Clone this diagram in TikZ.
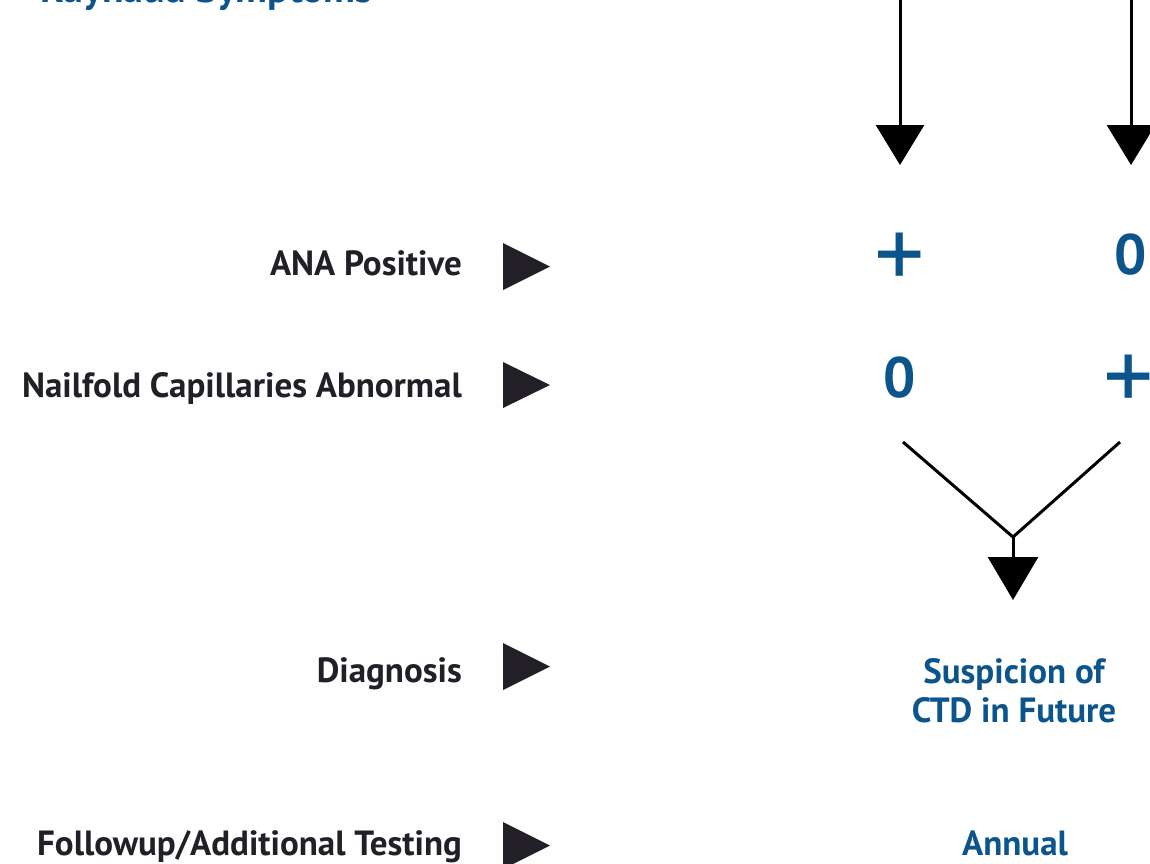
\documentclass[tikz,border=0pt]{standalone}
\usepackage{fontspec}
\setmainfont{PT Sans}
\usetikzlibrary{arrows.meta}
\definecolor{labeldark}{RGB}{35,31,38}
\definecolor{ctdblue}{RGB}{12,84,140}
\tikzset{
  rowlabel/.style={anchor=base east, inner sep=0pt, text=labeldark, font=\bfseries\fontsize{35}{42}\selectfont},
  bluetext/.style={inner sep=0pt, text=ctdblue, font=\bfseries\fontsize{35}{42}\selectfont},
  zerotext/.style={inner sep=0pt, text=ctdblue, font=\bfseries\fontsize{57}{60}\selectfont},
  plustext/.style={inner sep=0pt, text=ctdblue, font=\fontsize{100}{104}\selectfont},
  pointer/.style={fill=labeldark},
  bigarrow/.style={line width=3pt, draw=black, -{Triangle[length=40pt,width=48pt]}},
  vline/.style={line width=3pt, draw=black, line join=miter},
}
\begin{document}
\begin{tikzpicture}[x=1pt,y=-1pt]
\fill[white] (0,0) rectangle (1150,863);
\useasboundingbox (0,0) rectangle (1150,863);

% heading (cut by the top edge)
\node[bluetext, anchor=base west, font=\bfseries\fontsize{39.5}{44}\selectfont] (head) at (40,2) {Raynaud Symptoms};

% row labels
\node[rowlabel] (ana) at (462,275) {ANA Positive};
\node[rowlabel] (nail) at (462,397) {Nailfold Capillaries Abnormal};
\node[rowlabel] (diag) at (462,682) {Diagnosis};
\node[rowlabel] (follow) at (462,855) {Followup/Additional Testing};

% pointers
\fill[pointer] (503,243) -- (550,266.5) -- (503,290) -- cycle;
\fill[pointer] (503,362) -- (550,385) -- (503,408) -- cycle;
\fill[pointer] (503,643) -- (550,666.5) -- (503,690) -- cycle;
\fill[pointer] (503,822) -- (550,845.5) -- (503,869) -- cycle;

% top arrows
\coordinate (t1) at (900,-5);
\coordinate (e1) at (900,165);
\coordinate (t2) at (1131,-5);
\coordinate (e2) at (1131,165);
\draw[bigarrow] (t1) -- (e1);
\draw[bigarrow] (t2) -- (e2);

% signs
\node[plustext] (p1) at (900,261) {+};
\node[zerotext] (z1) at (1131,255) {0};
\node[zerotext] (z2) at (900,378) {0};
\node[plustext] (p2) at (1129,383) {+};

% merging lines
\coordinate (v1) at (903,442);
\coordinate (v2) at (1120,442);
\coordinate (j) at (1013,537);
\coordinate (dtip) at (1013,600);
\draw[vline] (v1) -- (j) -- (v2);
\draw[line width=3pt, -{Triangle[length=43pt,width=50pt]}] (j) -- (dtip);

% diagnosis text
\node[bluetext, anchor=base] (susp) at (1014,683) {Suspicion of};
\node[bluetext, anchor=base] (ctd) at (1014,722) {CTD in Future};
\node[bluetext, anchor=base] (annual) at (1015,855) {Annual};
\end{tikzpicture}
\end{document}
